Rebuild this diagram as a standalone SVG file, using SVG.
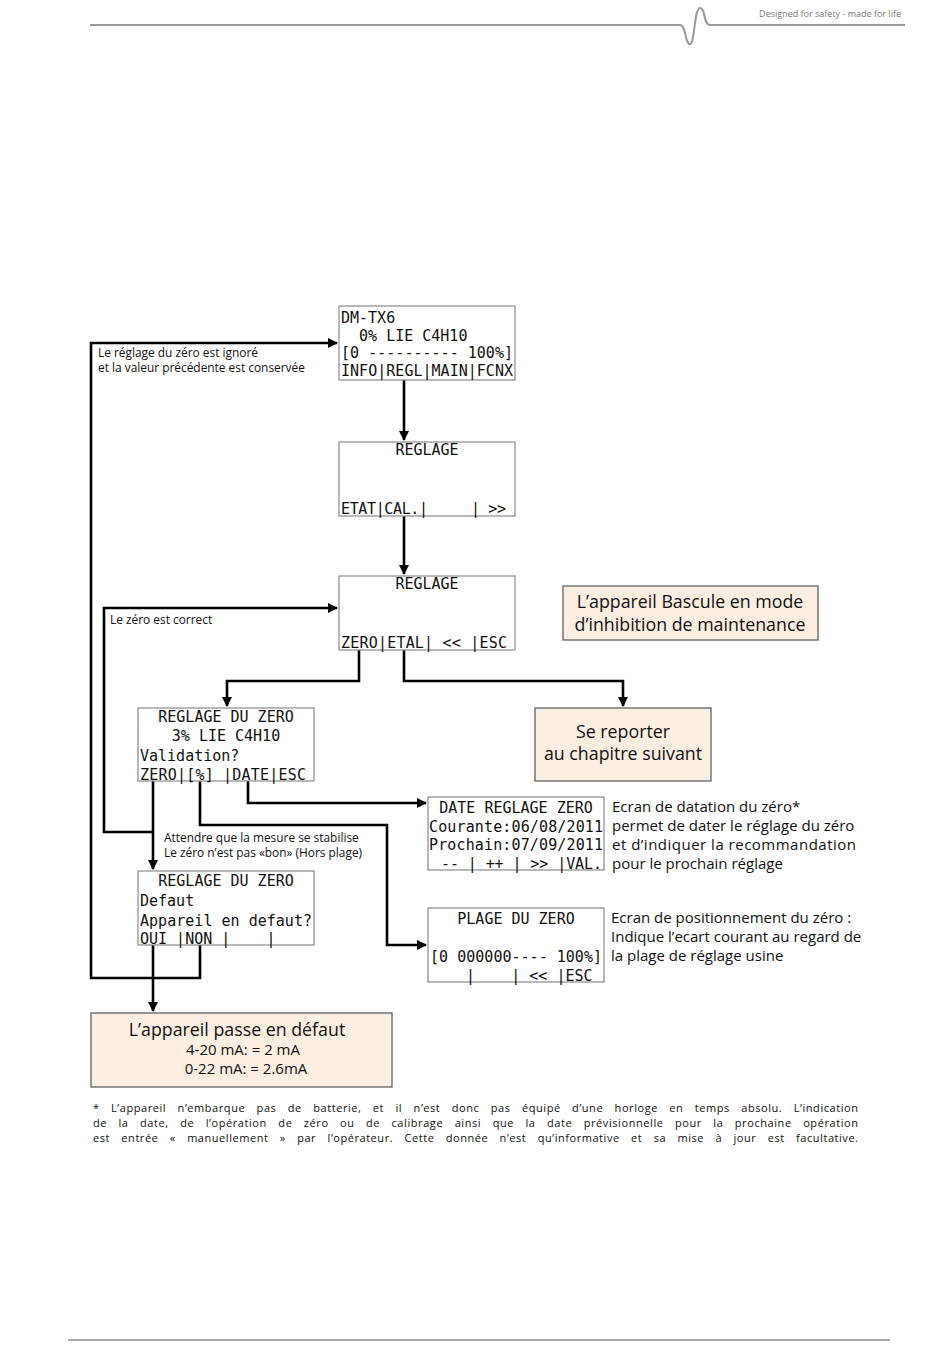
<svg xmlns="http://www.w3.org/2000/svg" width="950" height="1370" viewBox="0 0 950 1370">
<defs>
<style>
.lcd{fill:#fff;stroke:#8a8a8a;stroke-width:1.2}
.peach{fill:#fcefe2;stroke:#555;stroke-width:1.2}
.m{font-family:"DejaVu Sans Mono","Liberation Mono",monospace;font-size:15px;fill:#111}
.s{font-family:"Open Sans","Liberation Sans",sans-serif;fill:#111}
.c{fill:none;stroke:#000;stroke-width:2.6}
</style>
<marker id="ah" markerWidth="10" markerHeight="10" refX="9" refY="5" orient="auto" markerUnits="userSpaceOnUse">
<path d="M0,0 L10,5 L0,10 z" fill="#000"/>
</marker>
</defs>
<rect width="950" height="1370" fill="#fff"/>
<g id="header">
<path d="M90,25 L680,25 C686,25 685,44 690,44 C695,44 694,8 700,8 C706,8 703,25 710,25 L905,25" fill="none" stroke="#9a9a9a" stroke-width="2"/>
<text x="901" y="17" text-anchor="end" font-family="Open Sans,Liberation Sans,sans-serif" font-size="9" fill="#777">Designed for safety - made for life</text>
<line x1="68" y1="1340" x2="890" y2="1340" stroke="#aaa" stroke-width="2"/>
</g>
<g id="connectors">
<path class="c" d="M404,380 V440" marker-end="url(#ah)"/>
<path class="c" d="M404,516 V574" marker-end="url(#ah)"/>
<path class="c" d="M359,650 V681 H227 V706" marker-end="url(#ah)"/>
<path class="c" d="M404,650 V681 H623 V706" marker-end="url(#ah)"/>
<path class="c" d="M153,781 V869" marker-end="url(#ah)"/>
<path class="c" d="M153,832 H104 V608 H337" marker-end="url(#ah)"/>
<path class="c" d="M248,781 V803 H426" marker-end="url(#ah)"/>
<path class="c" d="M200,781 V825 H387 V945 H426" marker-end="url(#ah)"/>
<path class="c" d="M153,945 V1011" marker-end="url(#ah)"/>
<path class="c" d="M200,945 V978 H91 V343 H337" marker-end="url(#ah)"/>
<text class="s" font-size="11.9"><tspan x="98" y="357">Le réglage du zéro est ignoré</tspan><tspan x="98" y="372">et la valeur précédente est conservée</tspan></text>
<text class="s" font-size="11.9" x="110" y="624">Le zéro est correct</text>
<text class="s" font-size="11.9"><tspan x="164" y="842">Attendre que la mesure se stabilise</tspan><tspan x="164" y="857">Le zéro n’est pas «bon» (Hors plage)</tspan></text>
</g>
<g id="n1">
<rect class="lcd" x="339" y="306" width="176" height="74"/>
<text class="m" xml:space="preserve"><tspan x="341" y="323">DM-TX6</tspan><tspan x="341" y="341">  0% LIE C4H10</tspan><tspan x="341" y="358" textLength="172">[0 ---------- 100%]</tspan><tspan x="341" y="376" textLength="172">INFO|REGL|MAIN|FCNX</tspan></text>
</g>
<g id="n2">
<rect class="lcd" x="339" y="442" width="176" height="74"/>
<text class="m" x="427" y="455" text-anchor="middle">REGLAGE</text>
<text class="m" xml:space="preserve" x="341" y="514" textLength="165">ETAT|CAL.|     | &gt;&gt;</text>
</g>
<g id="n3">
<rect class="lcd" x="339" y="576" width="176" height="74"/>
<text class="m" x="427" y="589" text-anchor="middle">REGLAGE</text>
<text class="m" xml:space="preserve" x="341" y="648" textLength="166">ZERO|ETAL| &lt;&lt; |ESC</text>
</g>
<g id="n4">
<rect class="peach" x="563" y="586" width="255" height="54"/>
<text class="s" font-size="17.8" text-anchor="middle"><tspan x="690" y="608">L’appareil Bascule en mode</tspan><tspan x="690" y="631">d’inhibition de maintenance</tspan></text>
</g>
<g id="n5">
<rect class="lcd" x="138" y="708" width="176" height="73"/>
<text class="m" xml:space="preserve"><tspan x="226" y="722" text-anchor="middle">REGLAGE DU ZERO</tspan><tspan x="226" y="741" text-anchor="middle">3% LIE C4H10</tspan><tspan x="140" y="761">Validation?</tspan><tspan x="140" y="780" textLength="166">ZERO|[%] |DATE|ESC</tspan></text>
</g>
<g id="n6">
<rect class="peach" x="535" y="708" width="176" height="73"/>
<text class="s" font-size="17.8" text-anchor="middle"><tspan x="623" y="738">Se reporter</tspan><tspan x="623" y="760">au chapitre suivant</tspan></text>
</g>
<g id="n7">
<rect class="lcd" x="428" y="797" width="176" height="73"/>
<text class="m" xml:space="preserve"><tspan x="516" y="813" text-anchor="middle">DATE REGLAGE ZERO</tspan><tspan x="429" y="832" textLength="174">Courante:06/08/2011</tspan><tspan x="429" y="850" textLength="174">Prochain:07/09/2011</tspan><tspan x="432" y="869" textLength="170"> -- | ++ | &gt;&gt; |VAL.</tspan></text>
<text class="s" font-size="15"><tspan x="612" y="812">Ecran de datation du zéro*</tspan><tspan x="612" y="831">permet de dater le réglage du zéro</tspan><tspan x="612" y="850" textLength="244" lengthAdjust="spacing">et d’indiquer la recommandation</tspan><tspan x="612" y="869">pour le prochain réglage</tspan></text>
</g>
<g id="n8">
<rect class="lcd" x="138" y="871" width="176" height="74"/>
<text class="m" xml:space="preserve"><tspan x="226" y="886" text-anchor="middle">REGLAGE DU ZERO</tspan><tspan x="140" y="906">Defaut</tspan><tspan x="140" y="926" textLength="172">Appareil en defaut?</tspan><tspan x="140" y="944">OUI |NON |    |</tspan></text>
</g>
<g id="n9">
<rect class="lcd" x="428" y="908" width="176" height="74"/>
<text class="m" xml:space="preserve"><tspan x="516" y="924" text-anchor="middle">PLAGE DU ZERO</tspan><tspan x="430" y="962" textLength="172">[0 000000---- 100%]</tspan><tspan x="430" y="981">    |    | &lt;&lt; |ESC</tspan></text>
<text class="s" font-size="15"><tspan x="611" y="923">Ecran de positionnement du zéro :</tspan><tspan x="611" y="942">Indique l’ecart courant au regard de</tspan><tspan x="611" y="961">la plage de réglage usine</tspan></text>
</g>
<g id="n10">
<rect class="peach" x="91" y="1013" width="301" height="74"/>
<text class="s" text-anchor="middle"><tspan x="237" y="1036" font-size="17.8">L’appareil passe en défaut</tspan><tspan x="243" y="1055" font-size="15">4-20 mA: = 2 mA</tspan><tspan x="246" y="1074" font-size="15">0-22 mA: = 2.6mA</tspan></text>
</g>
<g id="footnote">
<text class="s" font-size="11" word-spacing="8" lengthAdjust="spacing"><tspan x="93" y="1112" textLength="765">* L’appareil n’embarque pas de batterie, et il n’est donc pas équipé d’une horloge en temps absolu. L’indication</tspan><tspan x="93" y="1127" textLength="765">de la date, de l’opération de zéro ou de calibrage ainsi que la date prévisionnelle pour la prochaine opération</tspan><tspan x="93" y="1142" textLength="765">est entrée « manuellement » par l’opérateur. Cette donnée n’est qu’informative et sa mise à jour est facultative.</tspan></text>
</g>
</svg>
